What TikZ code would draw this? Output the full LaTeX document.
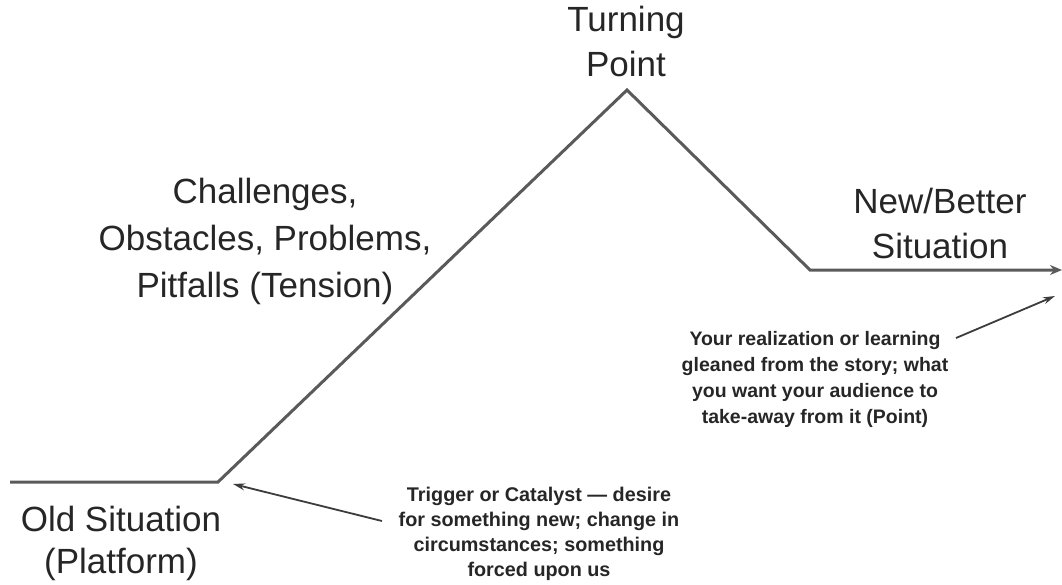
\documentclass[tikz,border=0pt]{standalone}
\usepackage{fontspec}
\setmainfont{Liberation Sans}
\usetikzlibrary{arrows.meta}
\definecolor{linegray}{HTML}{5A5A5A}
\definecolor{textdark}{HTML}{262626}
\tikzset{
  biglabel/.style={align=center, text=textdark, inner sep=0pt, font=\fontsize{35}{45}\selectfont},
  smalllabel/.style={align=center, text=textdark, inner sep=0pt, font=\fontsize{19.8}{25}\selectfont\bfseries},
  storyline/.style={draw=linegray, line width=3pt, line join=miter, -{Stealth[length=12pt,width=10pt]}},
  callout/.style={draw=textdark!90, line width=1.8pt, -{Stealth[length=12pt,width=7pt]}}
}
\begin{document}
\begin{tikzpicture}[x=1pt,y=-1pt]
\useasboundingbox (0,0) rectangle (1062,585);
% story line
\coordinate (start) at (10,482);
\coordinate (trigger) at (218,482);
\coordinate (peak) at (627,90);
\coordinate (valley) at (810,270);
\coordinate (finish) at (1062,270);
\draw[storyline] (start) -- (trigger) -- (peak) -- (valley) -- (finish);
% labels
\node[biglabel] (turning) at (626,41) {Turning\\Point};
\node[biglabel, font=\fontsize{35}{47}\selectfont] (challenges) at (265,241) {Challenges,\\Obstacles, Problems,\\Pitfalls (Tension)};
\node[biglabel] (newbetter) at (940,223) {New/Better\\Situation};
\node[biglabel, font=\fontsize{35}{42}\selectfont] (old) at (121,543) {Old Situation\\(Platform)};
\node[smalllabel] (triggertext) at (539,534) {Trigger or Catalyst --- desire\\for something new; change in\\circumstances; something\\forced upon us};
\node[smalllabel, font=\fontsize{19.5}{26}\selectfont\bfseries] (pointtext) at (815,379) {Your realization or learning\\gleaned from the story; what\\you want your audience to\\take-away from it (Point)};
% callouts
\coordinate (trigfrom) at (382,521);
\coordinate (trigto) at (233,484);
\coordinate (ptfrom) at (956,338);
\coordinate (ptto) at (1055,296);
\draw[callout] (trigfrom) -- (trigto);
\draw[callout] (ptfrom) -- (ptto);
\end{tikzpicture}
\end{document}
